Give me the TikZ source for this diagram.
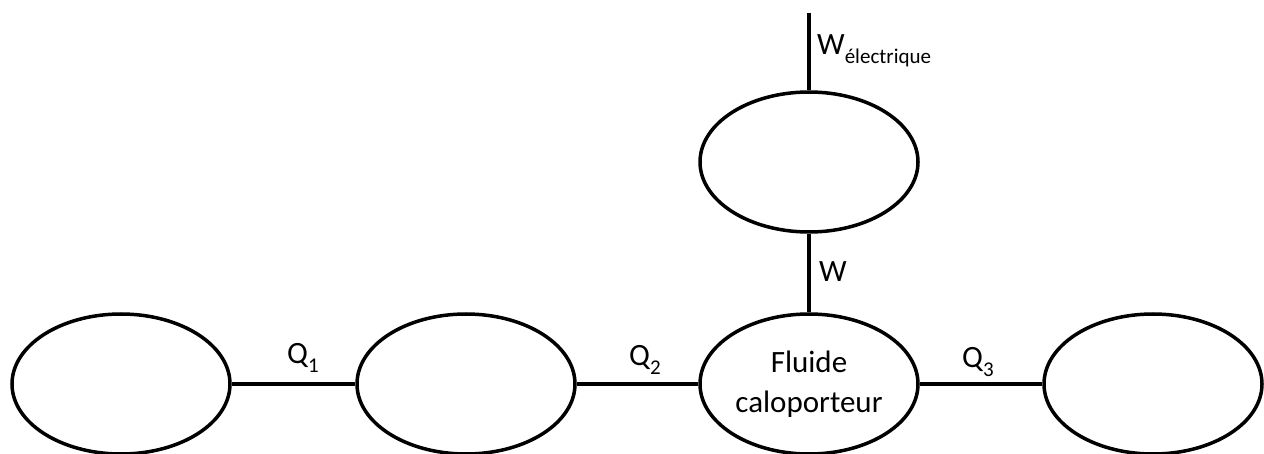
\documentclass[tikz,border=0pt]{standalone}
\usepackage{fontspec}
\setmainfont{Carlito}
\usetikzlibrary{shapes.geometric}
\newcommand\mysub[1]{\raisebox{-9pt}{\fontsize{21}{21}\selectfont #1}}
\begin{document}
\begin{tikzpicture}[x=1pt,y=-1pt,
  ell/.style={draw, ellipse, line width=3.5pt, inner sep=0pt, minimum width=218pt, minimum height=140pt, align=center, font=\fontsize{31}{40}\selectfont},
  conn/.style={line width=3.5pt},
  lab/.style={anchor=base west, inner sep=0pt, font=\fontsize{31}{36}\selectfont}]
\useasboundingbox (0,0) rectangle (1264,454);
\node[ell] (e1) at (121,384) {};
\node[ell] (e2) at (466,384) {};
\node[ell] (f) at (809,384) {Fluide\\caloporteur};
\node[ell] (e4) at (1153,384) {};
\node[ell] (t) at (809,162) {};
\coordinate (top) at (809,13);
\draw[conn] (e1.east) -- (e2.west);
\draw[conn] (e2.east) -- (f.west);
\draw[conn] (f.east) -- (e4.west);
\draw[conn] (f.north) -- (t.south);
\draw[conn] (t.north) -- (top);
\node[lab] (q1) at (287,363) {Q\mysub{1}};
\node[lab] (q2) at (629,366) {Q\mysub{2}};
\node[lab] (q3) at (962,367) {Q\mysub{3}};
\node[lab] (w) at (819,282) {W};
\node[lab] (we) at (817,55) {W\mysub{électrique}};
\end{tikzpicture}
\end{document}
